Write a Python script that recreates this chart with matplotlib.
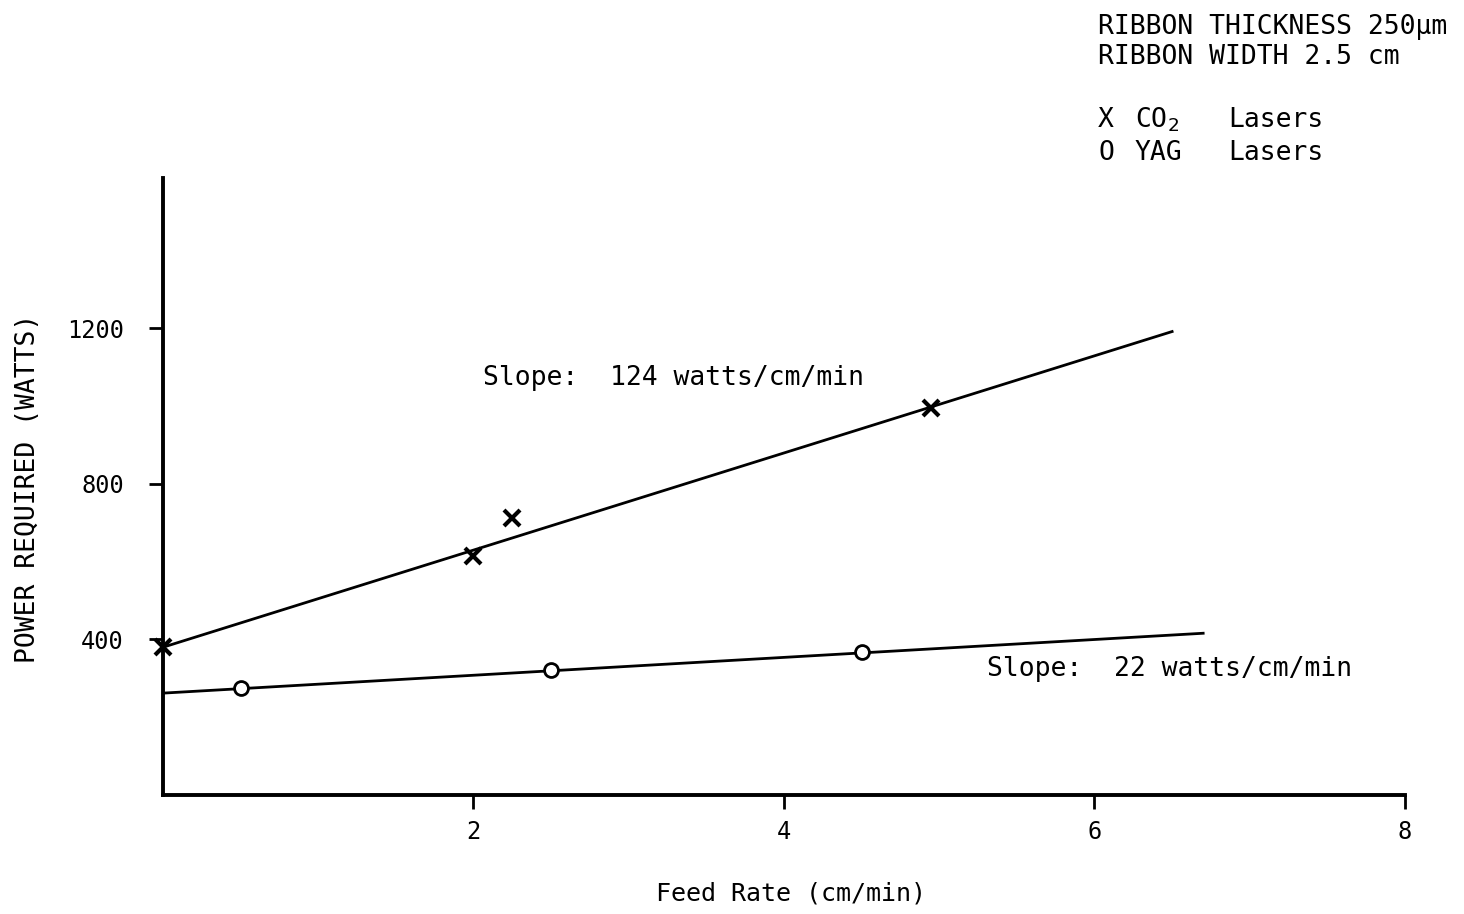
import matplotlib
matplotlib.use('Agg')
import matplotlib.pyplot as plt

# CO2 laser measurements
co2_feed = [0.0, 2.0, 2.25, 4.95]
co2_power = [380, 615, 712, 995]
# YAG laser measurements
yag_feed = [0.5, 2.5, 4.5]
yag_power = [275, 322, 368]

# fitted lines as drawn
co2_line_x = [0.0, 6.5]
co2_line_y = [380, 1192]
yag_line_x = [0.0, 6.7]
yag_line_y = [262, 416]

x_ticks = [2, 4, 6, 8]
y_ticks = [400, 800, 1200]

plt.rcParams['font.family'] = 'DejaVu Sans Mono'
plt.rcParams['mathtext.fontset'] = 'dejavusans'

fig = plt.figure(figsize=(14.64, 9.14), dpi=100)
ax = fig.add_axes([0.1113, 0.1302, 0.8484, 0.6751])

ax.plot(co2_line_x, co2_line_y, color='black', lw=2.0)
ax.plot(yag_line_x, yag_line_y, color='black', lw=2.0)
ax.plot(co2_feed, co2_power, linestyle='none', marker='x', color='black',
        markersize=11, markeredgewidth=3, clip_on=False)
ax.plot(yag_feed, yag_power, linestyle='none', marker='o', markerfacecolor='white',
        markeredgecolor='black', markersize=10, markeredgewidth=2, clip_on=False)

ax.set_xlim(0, 8)
ax.set_ylim(0, 1587)
ax.set_xticks(x_ticks)
ax.set_yticks(y_ticks)
ax.tick_params(axis='both', direction='out', length=10, width=2, labelsize=17)
ax.tick_params(axis='y', pad=18)
ax.tick_params(axis='x', pad=8)

for side in ['top', 'right']:
    ax.spines[side].set_visible(False)
for side in ['left', 'bottom']:
    ax.spines[side].set_linewidth(2.8)

ax.set_xlabel('Feed Rate (cm/min)', fontsize=18, va='center')
ax.xaxis.set_label_coords(0.506, -0.159)
ax.set_ylabel('POWER REQUIRED (WATTS)', fontsize=19, va='center')
ax.yaxis.set_label_coords(-0.109, 0.4976)

ax.text(2.06, 1072, 'Slope:  124 watts/cm/min', fontsize=19, va='center')
ax.text(5.31, 324, 'Slope:  22 watts/cm/min', fontsize=19, va='center')

fig.text(1098 / 1464, 1 - 27 / 914, 'RIBBON THICKNESS 250µm', fontsize=19, va='center')
fig.text(1098 / 1464, 1 - 57 / 914, 'RIBBON WIDTH 2.5 cm', fontsize=19, va='center')
fig.text(1098 / 1464, 1 - 120 / 914, 'X', fontsize=19, va='center')
fig.text(1135 / 1464, 1 - 120 / 914, 'CO$_2$', fontsize=19, va='center')
fig.text(1228 / 1464, 1 - 120 / 914, 'Lasers', fontsize=19, va='center')
fig.text(1098 / 1464, 1 - 153 / 914, 'O', fontsize=19, va='center')
fig.text(1135 / 1464, 1 - 153 / 914, 'YAG', fontsize=19, va='center')
fig.text(1228 / 1464, 1 - 153 / 914, 'Lasers', fontsize=19, va='center')

fig.savefig('out.png', dpi=100)
